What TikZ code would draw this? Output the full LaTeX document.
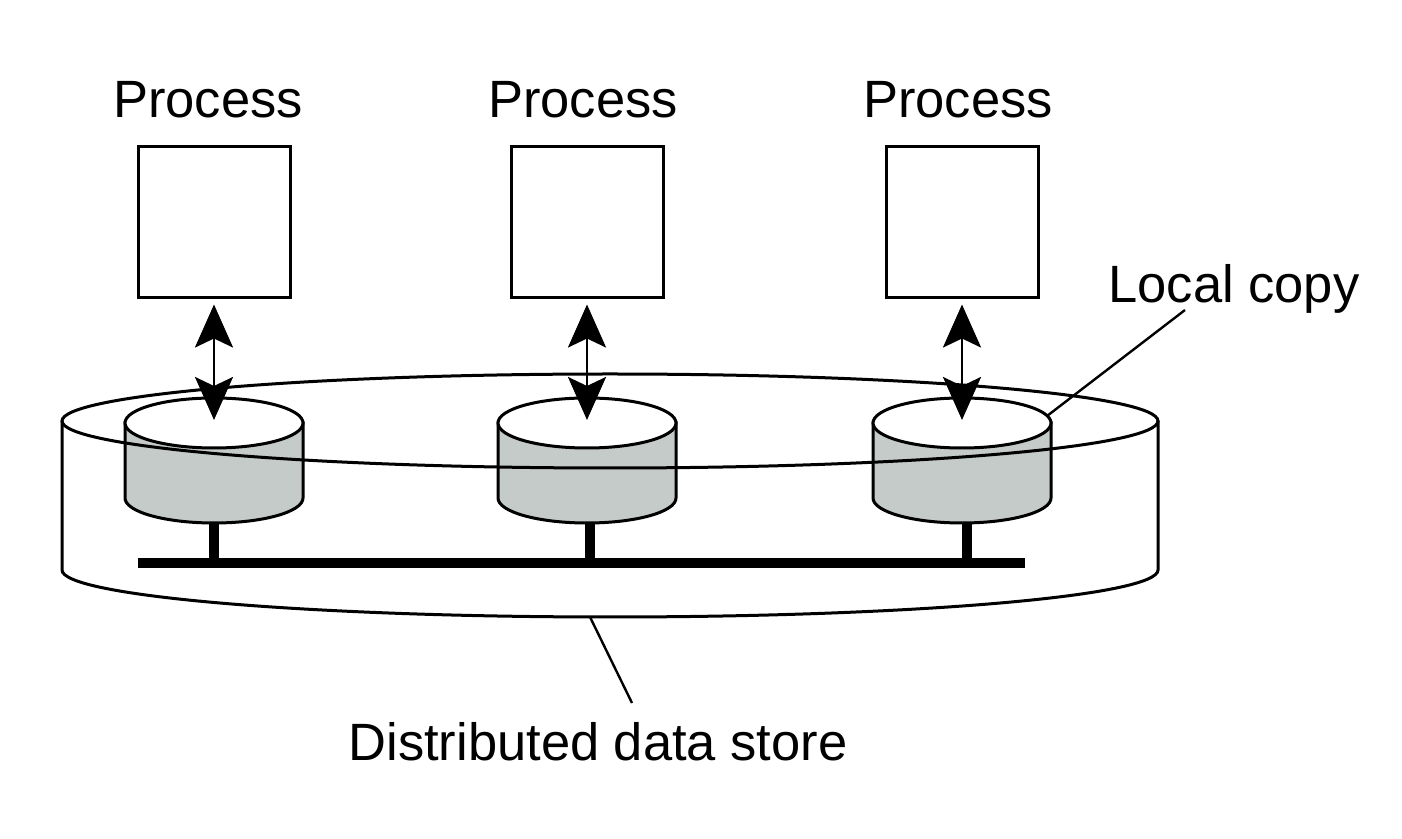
\documentclass[tikz,border=0pt]{standalone}
\usepackage{fontspec}
\setmainfont{Liberation Sans}
\usetikzlibrary{arrows.meta, positioning}
\definecolor{diskgray}{RGB}{196,203,201}
\tikzset{
  proc/.style={rectangle,draw,line width=3pt,minimum width=152pt,minimum height=151pt,inner sep=0pt},
  tag/.style={inner sep=0pt,font=\fontsize{52.5}{60}\selectfont},
  outline/.style={line width=3pt},
  link/.style={line width=2.8pt,{Stealth[length=43pt,width=38pt,inset=9pt]}-{Stealth[length=43pt,width=38pt,inset=9pt]}},
  leader/.style={line width=2.4pt},
  bus/.style={line width=10pt}
}
% #1 = centre x, #2 = name for the centre of the top
\newcommand{\copydisk}[2]{%
  \filldraw[outline,fill=diskgray] ({#1-89},415) -- ({#1-89},340)
    arc[start angle=180,end angle=360,x radius=89,y radius=25] -- ({#1+89},415) -- cycle;
  \filldraw[outline,fill=white] (#1,415) ellipse[x radius=89,y radius=25];
  \coordinate (#2) at (#1,415);
}

\begin{document}
\begin{tikzpicture}[x=1pt,y=1pt]
\useasboundingbox (0,0) rectangle (1402,838);
% outer store: sides and front of the base
\draw[outline] (62,417) -- (62,268)
  arc[start angle=180,end angle=360,x radius=548,y radius=47] -- (1158,417);
% bus and stems
\draw[bus] (138,275) -- (1025,275);
\draw[bus] (214,330) -- (214,275);
\draw[bus] (590,330) -- (590,275);
\draw[bus] (967,330) -- (967,275);
% local copies
\copydisk{214}{d1}
\copydisk{587}{d2}
\copydisk{962}{d3}
% rim of the store, over the copies
\draw[outline] (610,417) ellipse[x radius=548,y radius=47];
% processes
\node[proc] (p1) at (214,615.5) {};
\node[proc] (p2) at (587,615.5) {};
\node[proc] (p3) at (962,615.5) {};
\node[tag, above=27pt of p1, xshift=-6pt] (t1) {Process};
\node[tag, above=27pt of p2, xshift=-4pt] (t2) {Process};
\node[tag, above=27pt of p3, xshift=-4pt] (t3) {Process};
\draw[link, shorten <=5pt, shorten >=3pt] (p1.south) -- (d1);
\draw[link, shorten <=5pt, shorten >=3pt] (p2.south) -- (d2);
\draw[link, shorten <=5pt, shorten >=3pt] (p3.south) -- (d3);
% labels
\node[tag, anchor=base] (lc) at (1234,535) {Local copy};
\coordinate (lcend) at (1185,528);
\coordinate (rim) at (1047,422);
\draw[leader] (lcend) -- (rim);
\node[tag, anchor=base] (ds) at (598,78) {Distributed data store};
\coordinate (dsend) at (632,135);
\coordinate (base) at (590,221);
\draw[leader] (base) -- (dsend);
\end{tikzpicture}
\end{document}
